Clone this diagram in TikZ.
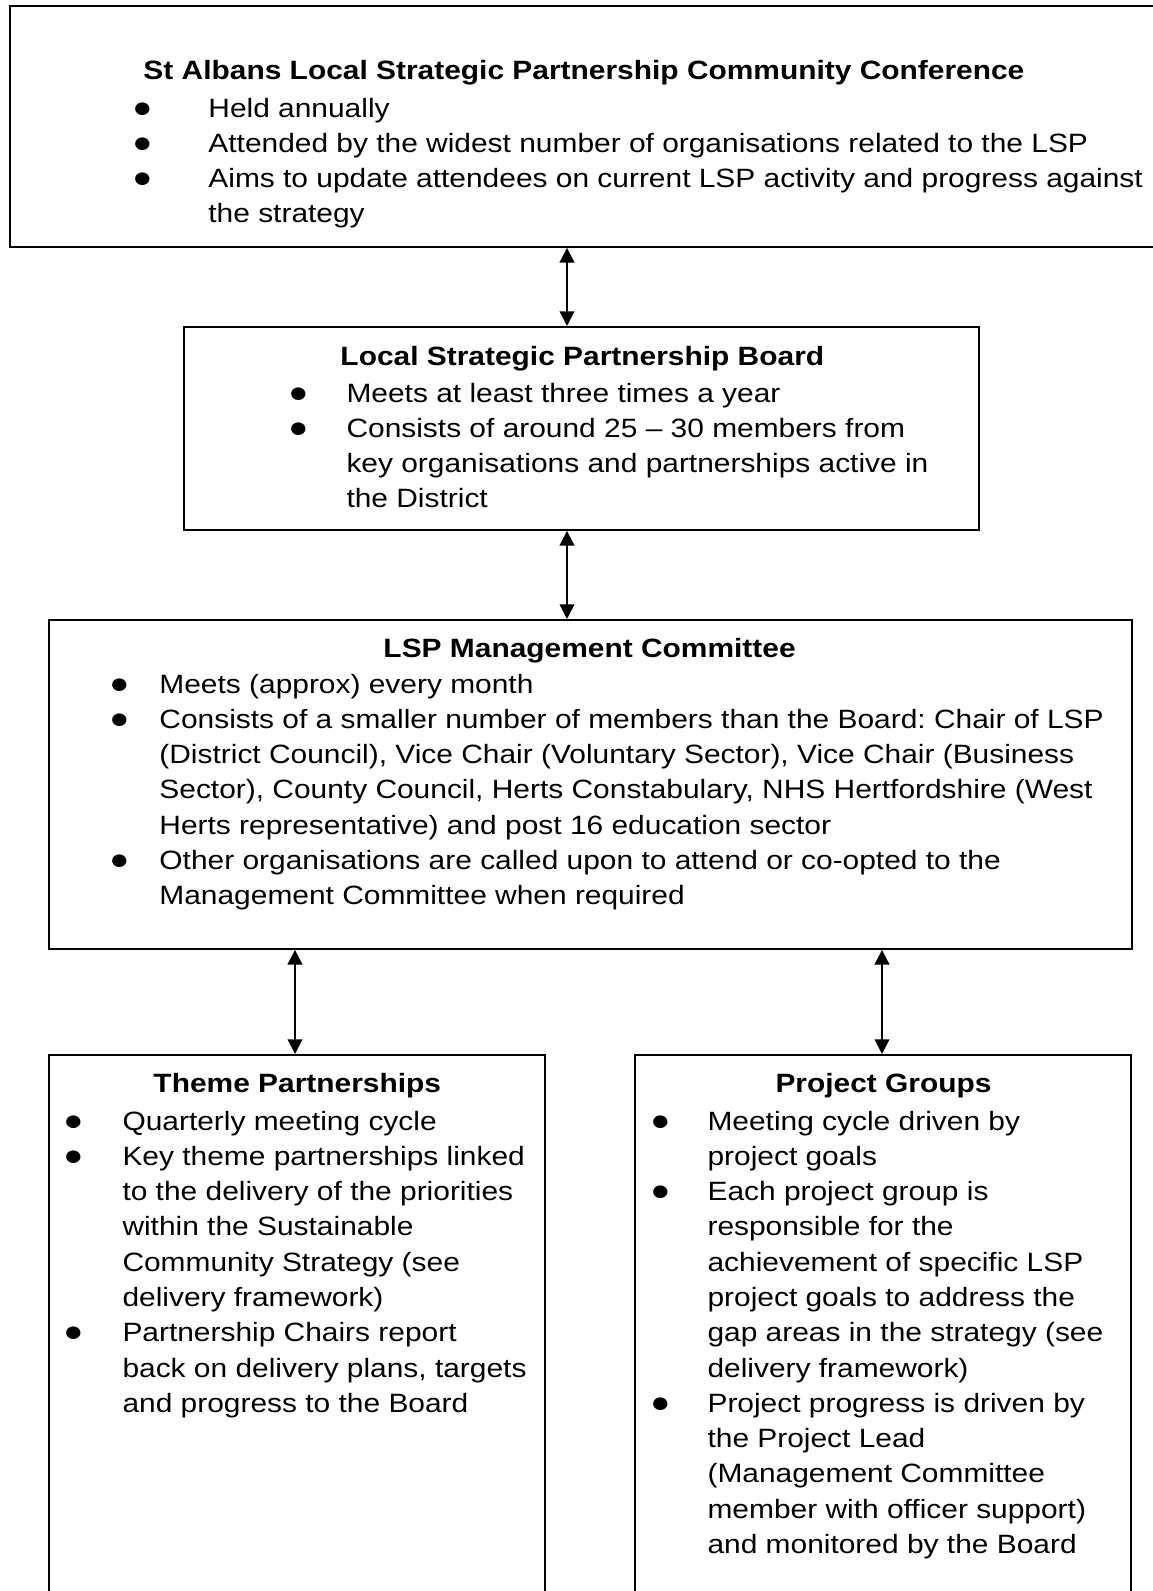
\documentclass[tikz,border=0pt]{standalone}
\usepackage{fontspec}
\setmainfont{Liberation Sans}[FakeStretch=1.13]
\usetikzlibrary{arrows.meta,positioning}
\frenchspacing
\newcommand{\boxfont}{\fontsize{10.8}{14.4}\selectfont}
\newcommand{\bul}{\makebox[0pt]{\fontsize{12}{12}\selectfont ●}}
\newcommand{\itemlist}[2]{\begin{tabular}[t]{@{}p{#1}@{}l@{}}#2\end{tabular}}
\tikzstyle{box} = [rectangle, draw=black, line width=0.8pt, anchor=north west, inner sep=0pt]
\tikzstyle{title} = [anchor=base west, inner sep=0pt, font=\boxfont\bfseries]
\tikzstyle{items} = [anchor=base west, inner sep=0pt, font=\boxfont]
\tikzstyle{arrow} = [line width=0.75pt, {Triangle[length=6pt,width=6pt]}-{Triangle[length=6pt,width=6pt]}]
\begin{document}
\begin{tikzpicture}[x=0.408pt, y=-0.408pt]
\useasboundingbox (0,0) rectangle (1153,1591);
% boxes
\node (conf) [box, minimum width=471.6pt, minimum height=98.3pt] at (9,5) {};
\node (board) [box, minimum width=324.4pt, minimum height=82.8pt] at (183,326) {};
\node (mgmt) [box, minimum width=441.9pt, minimum height=134.2pt] at (48,619) {};
\node (theme) [box, minimum width=202.4pt, minimum height=222.8pt] at (48,1054) {};
\node (proj) [box, minimum width=202.4pt, minimum height=222.8pt] at (634,1054) {};

% community conference
\node (conftitle) [title] at (143,79) {St Albans Local Strategic Partnership Community Conference};
\node (conflist) [items] at (142,117) {\itemlist{26.9pt}{
\bul & Held annually\\
\bul & Attended by the widest number of organisations related to the LSP\\
\bul & Aims to update attendees on current LSP activity and progress against\\
 & the strategy}};

% board
\node (boardtitle) [title] at (340,365) {Local Strategic Partnership Board};
\node (boardlist) [items] at (298,402) {\itemlist{19.6pt}{
\bul & Meets at least three times a year\\
\bul & Consists of around 25 -- 30 members from\\
 & key organisations and partnerships active in\\
 & the District}};

% management committee
\node (mgmttitle) [title] at (383,657) {LSP Management Committee};
\node (mgmtlist) [items] at (119,693) {\itemlist{16.3pt}{
\bul & Meets (approx) every month\\
\bul & Consists of a smaller number of members than the Board: Chair of LSP\\
 & (District Council), Vice Chair (Voluntary Sector), Vice Chair (Business\\
 & Sector), County Council, Herts Constabulary, NHS Hertfordshire (West\\
 & Herts representative) and post 16 education sector\\
\bul & Other organisations are called upon to attend or co-opted to the\\
 & Management Committee when required}};

% theme partnerships
\node (themetitle) [title] at (153,1092) {Theme Partnerships};
\node (themelist) [items] at (73,1130) {\itemlist{20pt}{
\bul & Quarterly meeting cycle\\
\bul & Key theme partnerships linked\\
 & to the delivery of the priorities\\
 & within the Sustainable\\
 & Community Strategy (see\\
 & delivery framework)\\
\bul & Partnership Chairs report\\
 & back on delivery plans, targets\\
 & and progress to the Board}};

% project groups
\node (projtitle) [title] at (775,1092) {Project Groups};
\node (projlist) [items] at (660,1130) {\itemlist{19.2pt}{
\bul & Meeting cycle driven by\\
 & project goals\\
\bul & Each project group is\\
 & responsible for the\\
 & achievement of specific LSP\\
 & project goals to address the\\
 & gap areas in the strategy (see\\
 & delivery framework)\\
\bul & Project progress is driven by\\
 & the Project Lead\\
 & (Management Committee\\
 & member with officer support)\\
 & and monitored by the Board}};

% links
\coordinate (c1) at (567,0);
\coordinate (c2) at (295,0);
\coordinate (c3) at (882,0);
\draw [arrow] (conf.south -| c1) -- (board.north -| c1);
\draw [arrow] (board.south -| c1) -- (mgmt.north -| c1);
\draw [arrow] (mgmt.south -| c2) -- (theme.north -| c2);
\draw [arrow] (mgmt.south -| c3) -- (proj.north -| c3);
\end{tikzpicture}
\end{document}
